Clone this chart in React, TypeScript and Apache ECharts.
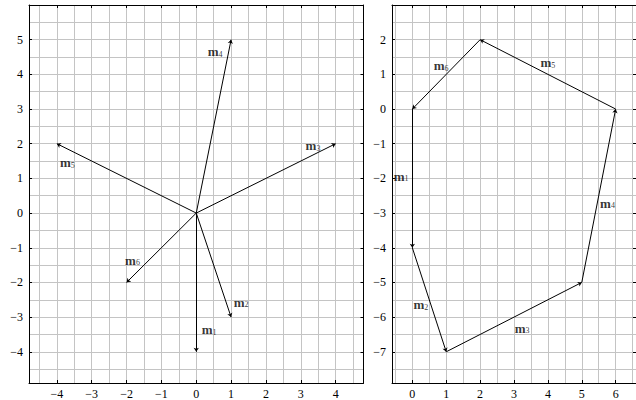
import React, { useEffect, useRef } from "react";
import * as echarts from "echarts";

// vectors m1..m6
const vectorNames = ["1", "2", "3", "4", "5", "6"];
const vectors: number[][] = [
  [0, -4],
  [1, -3],
  [4, 2],
  [1, 5],
  [-4, 2],
  [-2, -2],
];
// label anchors (data coordinates)
const leftLabelAt: number[][] = [
  [0.37, -3.35],
  [1.29, -2.55],
  [3.35, 1.95],
  [0.54, 4.67],
  [-3.7, 1.46],
  [-1.83, -1.35],
];
const rightLabelAt: number[][] = [
  [-0.33, -1.93],
  [0.25, -5.63],
  [3.24, -6.31],
  [5.76, -2.7],
  [4.0, 1.35],
  [0.85, 1.26],
];
// axis ranges and ticks
const leftX = { min: -4.8, max: 4.8 };
const leftY = { min: -4.9, max: 6.0 };
const rightX = { min: -0.6, max: 6.6 };
const rightY = { min: -7.9, max: 3.0 };
const leftXTicks = [-4, -3, -2, -1, 0, 1, 2, 3, 4];
const leftYTicks = [-4, -3, -2, -1, 0, 1, 2, 3, 4, 5];
const rightXTicks = [0, 1, 2, 3, 4, 5, 6];
const rightYTicks = [-7, -6, -5, -4, -3, -2, -1, 0, 1, 2];
const leftXGrid = [-4.5, -4, -3.5, -3, -2.5, -2, -1.5, -1, -0.5, 0, 0.5, 1, 1.5, 2, 2.5, 3, 3.5, 4, 4.5];
const leftYGrid = [-4.5, -4, -3.5, -3, -2.5, -2, -1.5, -1, -0.5, 0, 0.5, 1, 1.5, 2, 2.5, 3, 3.5, 4, 4.5, 5, 5.5];
const rightXGrid = [-0.5, 0, 0.5, 1, 1.5, 2, 2.5, 3, 3.5, 4, 4.5, 5, 5.5, 6, 6.5];
const rightYGrid = [-7.5, -7, -6.5, -6, -5.5, -5, -4.5, -4, -3.5, -3, -2.5, -2, -1.5, -1, -0.5, 0, 0.5, 1, 1.5, 2, 2.5];

const SERIF = "Liberation Serif";
const fmt = (v: number) => (v < 0 ? "\u2212" + Math.abs(v) : String(v));

export default function App() {
  const ref = useRef<HTMLDivElement>(null);
  useEffect(() => {
    if (!ref.current) return;
    const chart = echarts.init(ref.current, null, { renderer: "svg" });

    const grids = [
      { left: 29, top: 5, width: 334.5, height: 380.7 },
      { left: 392, top: 5, width: 252.7, height: 380.7 },
    ];
    const xr = [leftX, rightX];
    const yr = [leftY, rightY];
    const xt = [leftXTicks, rightXTicks];
    const yt = [leftYTicks, rightYTicks];
    const xg = [leftXGrid, rightXGrid];
    const yg = [leftYGrid, rightYGrid];

    const frameLine = { show: true, onZero: false, lineStyle: { color: "#000", width: 1 } };
    const xAxis: any[] = [];
    const yAxis: any[] = [];
    for (let g = 0; g < 2; g++) {
      xAxis.push({
        type: "value", gridIndex: g, position: "bottom", min: xr[g].min, max: xr[g].max,
        axisLine: frameLine,
        axisTick: { show: true, inside: true, length: 3, customValues: xt[g], lineStyle: { color: "#000" } },
        axisLabel: { show: true, customValues: xt[g], formatter: fmt, margin: 5, color: "#000", fontFamily: SERIF, fontSize: 12 },
        splitLine: { show: false },
      });
      xAxis.push({
        type: "value", gridIndex: g, position: "top", min: xr[g].min, max: xr[g].max,
        axisLine: frameLine,
        axisTick: { show: true, inside: true, length: 3, customValues: xt[g], lineStyle: { color: "#000" } },
        axisLabel: { show: false },
        splitLine: { show: false },
      });
      xAxis.push({
        type: "value", gridIndex: g, position: "bottom", min: xr[g].min, max: xr[g].max, z: -1,
        axisLine: { show: false, onZero: false },
        axisTick: { show: false, customValues: xg[g] },
        axisLabel: { show: false },
        splitLine: { show: true, lineStyle: { color: "#c4c4c4", width: 1 } },
      });
      yAxis.push({
        type: "value", gridIndex: g, position: "left", min: yr[g].min, max: yr[g].max,
        axisLine: frameLine,
        axisTick: { show: true, inside: true, length: 3, customValues: yt[g], lineStyle: { color: "#000" } },
        axisLabel: { show: true, customValues: yt[g], formatter: fmt, margin: 6, color: "#000", fontFamily: SERIF, fontSize: 12 },
        splitLine: { show: false },
      });
      yAxis.push({
        type: "value", gridIndex: g, position: "right", min: yr[g].min, max: yr[g].max,
        axisLine: frameLine,
        axisTick: { show: true, inside: true, length: 3, customValues: yt[g], lineStyle: { color: "#000" } },
        axisLabel: { show: false },
        splitLine: { show: false },
      });
      yAxis.push({
        type: "value", gridIndex: g, position: "left", min: yr[g].min, max: yr[g].max, z: -1,
        axisLine: { show: false, onZero: false },
        axisTick: { show: false, customValues: yg[g] },
        axisLabel: { show: false },
        splitLine: { show: true, lineStyle: { color: "#c4c4c4", width: 1 } },
      });
    }

    // left: vectors from origin
    const leftLines = vectors.map((v) => ({ coords: [[0, 0], [v[0], v[1]]] }));
    // right: chained vectors
    const rightLines: any[] = [];
    let p = [0, 0];
    for (const v of vectors) {
      const q = [p[0] + v[0], p[1] + v[1]];
      rightLines.push({ coords: [p, q] });
      p = q;
    }

    const labelRich = {
      b: { fontFamily: SERIF, fontWeight: "bold", fontSize: 13, color: "#000", verticalAlign: "bottom", lineHeight: 14 },
      s: { fontFamily: SERIF, fontSize: 8, color: "#000", verticalAlign: "bottom", lineHeight: 10, padding: [5, 0, 0, 0] },
    };
    const mkLabels = (pts: number[][]) =>
      pts.map((pt, i) => ({ value: pt, name: vectorNames[i] }));

    const lineStyle = { color: "#000", width: 1, opacity: 1, curveness: 0 };

    chart.setOption({
      animation: false,
      backgroundColor: "#fff",
      grid: grids.map((g) => ({ ...g, containLabel: false })),
      xAxis,
      yAxis,
      series: [
        {
          type: "lines", coordinateSystem: "cartesian2d", xAxisIndex: 0, yAxisIndex: 0,
          symbol: ["none", "arrow"], symbolSize: 4, lineStyle, data: leftLines, z: 5,
        },
        {
          type: "lines", coordinateSystem: "cartesian2d", xAxisIndex: 3, yAxisIndex: 3,
          symbol: ["none", "arrow"], symbolSize: 4, lineStyle, data: rightLines, z: 5,
        },
        {
          type: "scatter", xAxisIndex: 0, yAxisIndex: 0, symbolSize: 0, data: mkLabels(leftLabelAt), z: 6,
          label: { show: true, position: "inside", formatter: (p: any) => `{b|m}{s|${p.name}}`, rich: labelRich },
        },
        {
          type: "scatter", xAxisIndex: 3, yAxisIndex: 3, symbolSize: 0, data: mkLabels(rightLabelAt), z: 6,
          label: { show: true, position: "inside", formatter: (p: any) => `{b|m}{s|${p.name}}`, rich: labelRich },
        },
      ],
    });
    return () => chart.dispose();
  }, []);
  return <div ref={ref} style={{ position: "fixed", left: 0, top: 0, width: 636, height: 400 }} />;
}
